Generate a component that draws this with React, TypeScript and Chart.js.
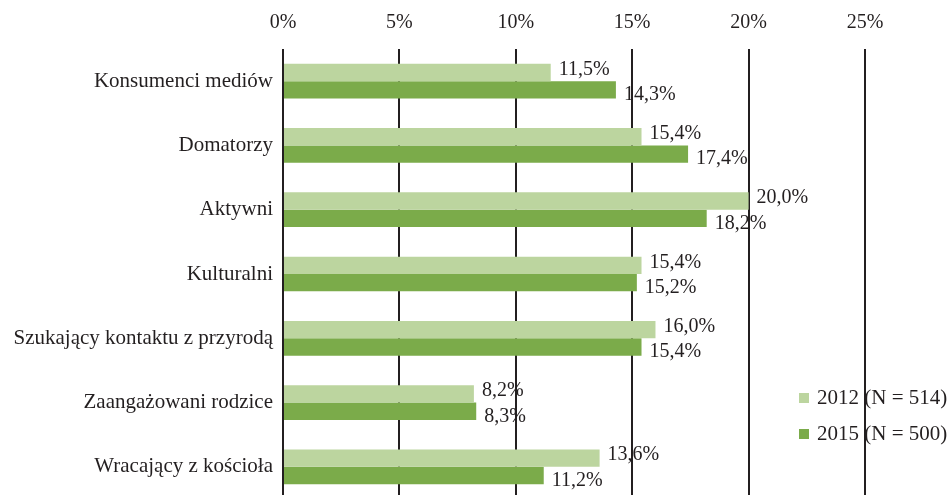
import React, { useEffect, useRef } from "react";
import { Chart, registerables } from "chart.js";

Chart.register(...registerables);

const categories = [
  "Konsumenci mediów",
  "Domatorzy",
  "Aktywni",
  "Kulturalni",
  "Szukający kontaktu z przyrodą",
  "Zaangażowani rodzice",
  "Wracający z kościoła",
];
const series2012 = [11.5, 15.4, 20.0, 15.4, 16.0, 8.2, 13.6];
const series2015 = [14.3, 17.4, 18.2, 15.2, 15.4, 8.3, 11.2];
const seriesLabels = ["2012 (N = 514)", "2015 (N = 500)"];
const seriesColors = ["#bcd59f", "#7bab4a"];
const xMin = 0;
const xMax = 25;
const xStep = 5;

const FONT = "'Liberation Serif', 'Times New Roman', serif";
const TEXT = "#231f20";

const fmt = (v: number) => v.toFixed(1).replace(".", ",") + "%";

const labelPlugin = {
  id: "valueLabels",
  afterDatasetsDraw(chart: any) {
    const ctx = chart.ctx;
    ctx.save();
    ctx.font = `20px ${FONT}`;
    ctx.fillStyle = TEXT;
    ctx.textAlign = "left";
    ctx.textBaseline = "middle";
    chart.data.datasets.forEach((ds: any, di: number) => {
      const meta = chart.getDatasetMeta(di);
      meta.data.forEach((bar: any, i: number) => {
        const off = di === 0 ? -3 : 5;
        ctx.fillText(fmt(ds.data[i]), bar.x + 8, bar.y + off);
      });
    });
    ctx.restore();
  },
  afterDraw(chart: any) {
    const ctx = chart.ctx;
    ctx.save();
    ctx.font = `21px ${FONT}`;
    ctx.textAlign = "left";
    ctx.textBaseline = "middle";
    seriesLabels.forEach((lab, i) => {
      const y = 398 + i * 36;
      ctx.fillStyle = seriesColors[i];
      ctx.fillRect(799, y - 5, 10, 10);
      ctx.fillStyle = TEXT;
      ctx.fillText(lab, 817, y);
    });
    ctx.restore();
  },
};

export default function App() {
  const ref = useRef<HTMLCanvasElement>(null);
  useEffect(() => {
    if (!ref.current) return;
    const chart = new Chart(ref.current, {
      type: "bar",
      data: {
        labels: categories,
        datasets: [
          { label: seriesLabels[0], data: series2012, backgroundColor: seriesColors[0] },
          { label: seriesLabels[1], data: series2015, backgroundColor: seriesColors[1] },
        ],
      },
      options: {
        indexAxis: "y",
        responsive: false,
        animation: false,
        layout: { padding: { top: 0, left: 0, right: 82, bottom: 3 } },
        plugins: { legend: { display: false }, tooltip: { enabled: false } },
        datasets: { bar: { categoryPercentage: 0.54, barPercentage: 1 } },
        scales: {
          x: {
            position: "top",
            min: xMin,
            max: xMax,
            ticks: {
              stepSize: xStep,
              padding: 14,
              color: TEXT,
              font: { family: FONT, size: 20 },
              callback: (v: any) => v + "%",
            },
            grid: { color: TEXT, lineWidth: 2, drawTicks: false },
            border: { display: false },
            afterFit: (s: any) => {
              s.height = 49;
            },
          },
          y: {
            ticks: {
              padding: 10,
              color: TEXT,
              font: { family: FONT, size: 21 },
            },
            grid: { display: false, drawTicks: false },
            border: { display: false },
            afterFit: (s: any) => {
              s.width = 283;
              s.paddingTop = 0;
              s.paddingBottom = 0;
            },
          },
        },
      },
      plugins: [labelPlugin],
    });
    return () => chart.destroy();
  }, []);
  return (
    <div style={{ position: "absolute", left: 0, top: 0, width: 947, height: 495, overflow: "hidden", background: "#fff" }}>
      <canvas ref={ref} width={947} height={502} />
    </div>
  );
}
